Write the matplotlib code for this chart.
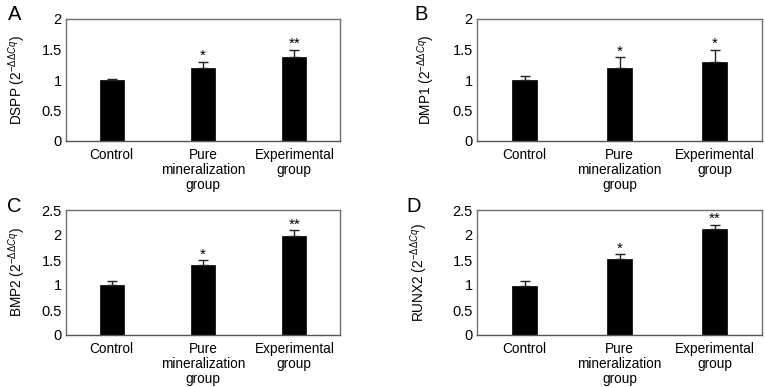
import matplotlib
matplotlib.use("Agg")
import matplotlib.pyplot as plt

plt.rcParams['font.family'] = ['Liberation Sans', 'DejaVu Sans']
plt.rcParams['mathtext.fontset'] = 'custom'
plt.rcParams['mathtext.rm'] = 'Liberation Sans'
plt.rcParams['mathtext.it'] = 'Liberation Sans:italic'

categories = ["Control", "Pure\nmineralization\ngroup", "Experimental\ngroup"]

dspp_vals = [1.00, 1.19, 1.38]
dspp_err = [0.01, 0.11, 0.12]
dspp_sig = ["", "*", "**"]

dmp1_vals = [1.00, 1.19, 1.29]
dmp1_err = [0.07, 0.18, 0.21]
dmp1_sig = ["", "*", "*"]

bmp2_vals = [1.00, 1.41, 1.99]
bmp2_err = [0.09, 0.09, 0.11]
bmp2_sig = ["", "*", "**"]

runx2_vals = [0.99, 1.52, 2.12]
runx2_err = [0.10, 0.10, 0.09]
runx2_sig = ["", "*", "**"]

ticks_a = [0, 0.5, 1, 1.5, 2]
ticklabels_a = ["0", "0.5", "1", "1.5", "2"]
ticks_c = [0, 0.5, 1, 1.5, 2, 2.5]
ticklabels_c = ["0", "0.5", "1", "1.5", "2", "2.5"]

W, H = 765, 387
fig = plt.figure(figsize=(W / 100, H / 100), dpi=100)

def px_axes(x0, y0, x1, y1):
    return fig.add_axes([x0 / W, 1 - y1 / H, (x1 - x0) / W, (y1 - y0) / H])

spine_col = "#707070"

def panel(ax, box, vals, errs, sigs, gene, ticks, tlabels, ymax, letter, lx, ly, ylx):
    x = list(range(len(categories)))
    ax.bar(x, vals, width=0.26, color="black", edgecolor="black", linewidth=0.5, zorder=2)
    ax.errorbar(x, vals, yerr=[[0] * len(errs), errs], fmt="none", ecolor="#222222",
                elinewidth=1.0, capsize=3.4, capthick=1.0, zorder=3)
    for xi, v, e, s in zip(x, vals, errs, sigs):
        if s:
            ax.text(xi, v + e - ymax * 0.012, s, ha="center", va="bottom", fontsize=11)
    ax.set_xlim(-0.5, 2.5)
    ax.set_ylim(0, ymax)
    ax.set_yticks(ticks)
    ax.set_yticklabels(tlabels, fontsize=10.5)
    ax.set_xticks(x)
    ax.set_xticklabels(categories, fontsize=9.8, linespacing=1.08)
    ax.tick_params(axis="both", length=0)
    ax.tick_params(axis="y", pad=3)
    ax.tick_params(axis="x", pad=5)
    for sp in ax.spines.values():
        sp.set_color(spine_col)
        sp.set_linewidth(1.0)
    ax.spines["bottom"].set_color("#555555")
    ax.set_ylabel(gene + r" (2$^{-\Delta\Delta \mathit{Cq}}$)", fontsize=9.8)
    x0, x1 = box[0], box[2]
    ax.yaxis.set_label_coords((ylx - x0) / (x1 - x0), 0.5)
    fig.text(lx / W, 1 - ly / H, letter, fontsize=14.5, ha="center", va="center")

boxA = (66, 19, 340, 141)
boxB = (477, 19, 762, 141)
boxC = (66, 210, 340, 335)
boxD = (477, 210, 762, 335)

axA = px_axes(*boxA)
panel(axA, boxA, dspp_vals, dspp_err, dspp_sig, "DSPP", ticks_a, ticklabels_a, 2, "A", 15, 15, 28)
axB = px_axes(*boxB)
panel(axB, boxB, dmp1_vals, dmp1_err, dmp1_sig, "DMP1", ticks_a, ticklabels_a, 2, "B", 421, 15, 437)
axC = px_axes(*boxC)
panel(axC, boxC, bmp2_vals, bmp2_err, bmp2_sig, "BMP2", ticks_c, ticklabels_c, 2.5, "C", 14, 207, 28)
axD = px_axes(*boxD)
panel(axD, boxD, runx2_vals, runx2_err, runx2_sig, "RUNX2", ticks_c, ticklabels_c, 2.5, "D", 414, 207, 430)

fig.savefig("out.png", dpi=100)
